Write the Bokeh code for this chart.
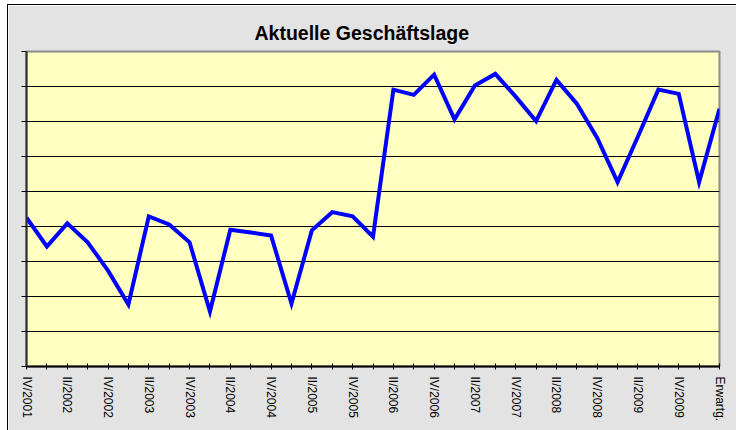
from bokeh.plotting import figure
from bokeh.models import FixedTicker
from bokeh.embed import file_html
from bokeh.resources import INLINE

# Categories (quarters) and the displayed tick labels
categories = [
    "IV/2001",
    "I/2002", "II/2002", "III/2002", "IV/2002",
    "I/2003", "II/2003", "III/2003", "IV/2003",
    "I/2004", "II/2004", "III/2004", "IV/2004",
    "I/2005", "II/2005", "III/2005", "IV/2005",
    "I/2006", "II/2006", "III/2006", "IV/2006",
    "I/2007", "II/2007", "III/2007", "IV/2007",
    "I/2008", "II/2008", "III/2008", "IV/2008",
    "I/2009", "II/2009", "III/2009", "IV/2009",
    "I/2010", "Erwartg.",
]
shown_labels = [c if i % 2 == 0 else "" for i, c in enumerate(categories)]

# Values (in gridline units, 0..9)
values = [
    4.25, 3.43, 4.09, 3.55, 2.74, 1.77, 4.29, 4.06, 3.55, 1.57,
    3.91, 3.83, 3.74, 1.80, 3.89, 4.41, 4.29, 3.71, 7.91, 7.76,
    8.34, 7.06, 8.03, 8.36, 7.71, 7.01, 8.19, 7.51, 6.53, 5.27,
    6.57, 7.91, 7.79, 5.27, 7.36,
]
y_ticks = list(range(10))

x = list(range(len(categories)))

p = figure(
    width=728, height=425,
    x_range=(0, len(categories) - 1), y_range=(0, 9),
    output_backend="svg", toolbar_location=None,
    min_border_left=18, min_border_right=17,
    min_border_top=46, min_border_bottom=64,
)
p.margin = (5, 0, 0, 8)
p.styles = {"outline": "1px solid black"}

p.border_fill_color = "#e3e3e3"
p.background_fill_color = "#ffffc0"
p.outline_line_color = "#8c8c8c"
p.outline_line_width = 2

p.title.text = "Aktuelle Geschäftslage"
p.title.text_font = "Liberation Sans"
p.title.text_font_style = "bold"
p.title.text_font_size = "19.5px"
p.title.text_color = "black"
p.title.align = "left"
p.title.offset = 228
p.title.standoff = 15

p.line(x, values, line_color="#0000ff", line_width=4, line_join="miter")

# X axis
p.xaxis.ticker = FixedTicker(ticks=x)
p.xaxis.major_label_overrides = {i: lab for i, lab in enumerate(shown_labels)}
p.xaxis.major_label_orientation = "vertical"
p.xaxis.major_label_text_font = "Liberation Sans"
p.xaxis.major_label_text_font_size = "12px"
p.xaxis.major_label_text_color = "black"
p.xaxis.major_label_standoff = 7
p.xaxis.major_tick_in = 3
p.xaxis.major_tick_out = 3
p.xaxis.major_tick_line_color = "black"
p.xaxis.axis_line_color = "black"
p.xaxis.axis_line_width = 2
p.xaxis.minor_tick_line_color = None

# Y axis (no labels)
p.yaxis.ticker = FixedTicker(ticks=y_ticks)
p.yaxis.major_label_overrides = {t: "" for t in y_ticks}
p.yaxis.major_tick_in = 0
p.yaxis.major_tick_out = 5
p.yaxis.major_tick_line_color = "black"
p.yaxis.axis_line_color = "#303030"
p.yaxis.axis_line_width = 2
p.yaxis.minor_tick_line_color = None

p.xgrid.grid_line_color = None
p.ygrid.ticker = FixedTicker(ticks=y_ticks)
p.ygrid.grid_line_color = "black"
p.ygrid.grid_line_width = 1

open("out.html", "w").write(file_html(p, INLINE))
